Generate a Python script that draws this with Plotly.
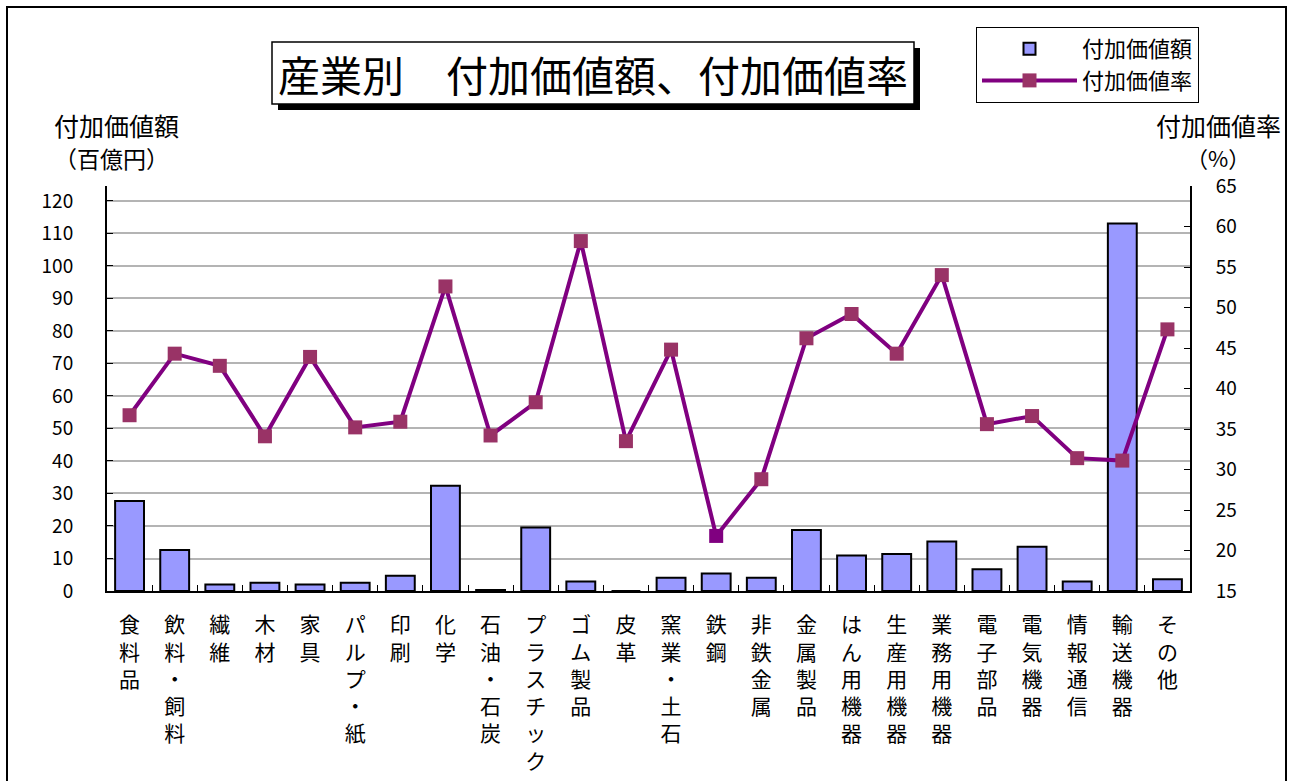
import plotly.graph_objects as go

categories = ["食料品", "飲料・飼料", "繊維", "木材", "家具", "パルプ・紙", "印刷", "化学",
              "石油・石炭", "プラスチック", "ゴム製品", "皮革", "窯業・土石", "鉄鋼", "非鉄金属",
              "金属製品", "はん用機器", "生産用機器", "業務用機器", "電子部品", "電気機器",
              "情報通信", "輸送機器", "その他"]
value_added = [27.7, 12.6, 2.0, 2.5, 2.0, 2.5, 4.7, 32.4, 0.3, 19.5, 2.9, 0.0, 4.1, 5.4, 4.1,
               18.8, 10.9, 11.4, 15.2, 6.7, 13.6, 2.9, 113.1, 3.6]
value_added_rate = [36.7, 44.3, 42.8, 34.1, 43.9, 35.2, 35.9, 52.6, 34.2, 38.3, 58.2, 33.5, 44.8,
                    21.8, 28.8, 46.2, 49.2, 44.3, 54.0, 35.6, 36.6, 31.4, 31.1, 47.3]
left_ticks = list(range(0, 121, 10))
right_ticks = list(range(15, 66, 5))

W, H = 1295, 781
L, R, T, B = 107, 1190, 186, 591
FONT = "Noto Sans CJK JP"


def px(x):
    return (x - L) / (R - L)


def py(y):
    return (B - y) / (B - T)


tick_text = ["<br>".join(list(c)) for c in categories]
marker_colors = ["#800080" if c == "鉄鋼" else "#993366" for c in categories]

fig = go.Figure()
fig.add_trace(go.Bar(
    x=categories, y=value_added, name="付加価値額",
    marker=dict(color="#9999ff", line=dict(color="black", width=2)),
    yaxis="y",
))
fig.add_trace(go.Scatter(
    x=categories, y=value_added_rate, name="付加価値率", mode="lines+markers",
    line=dict(color="#800080", width=4),
    marker=dict(symbol="square", size=14, color=marker_colors),
    yaxis="y2",
))

fig.update_layout(
    width=W, height=H,
    margin=dict(l=L, r=W - R, t=T, b=H - B, autoexpand=False),
    paper_bgcolor="white", plot_bgcolor="white",
    font=dict(family=FONT, color="black"),
    bargap=0.36,
    showlegend=True,
    legend=dict(
        x=px(976), y=py(27), xanchor="left", yanchor="top",
        bgcolor="white", bordercolor="black", borderwidth=1,
        font=dict(size=22, family=FONT), tracegroupgap=0, itemwidth=95,
    ),
    xaxis=dict(
        tickmode="array", tickvals=categories, ticktext=tick_text,
        range=[-0.5, len(categories) - 0.5], automargin=False,
        tickfont=dict(size=21, family=FONT),
        showline=True, linecolor="black", linewidth=2,
        ticks="inside", ticklen=6, tickcolor="black", tickson="boundaries",
        showgrid=False, ticklabelstandoff=14,
    ),
    yaxis=dict(
        range=[0, 124.6], tickvals=left_ticks, automargin=False,
        tickfont=dict(size=19, family=FONT),
        showline=True, linecolor="black", linewidth=2,
        ticks="inside", ticklen=6, tickcolor="black",
        showgrid=True, gridcolor="#b4b4b4", gridwidth=2,
        zeroline=False, ticklabelstandoff=28,
    ),
    yaxis2=dict(
        range=[15, 65], tickvals=right_ticks, overlaying="y", side="right", automargin=False,
        tickfont=dict(size=19, family=FONT),
        showline=True, linecolor="black", linewidth=2,
        ticks="inside", ticklen=6, tickcolor="black",
        showgrid=False, zeroline=False, ticklabelstandoff=20,
    ),
)

shapes = [
    # outer frame
    dict(type="rect", xref="paper", yref="paper", x0=px(7), x1=px(1286), y0=py(795), y1=py(7),
         line=dict(color="black", width=2), fillcolor="rgba(0,0,0,0)", layer="below"),
    # title shadow
    dict(type="rect", xref="paper", yref="paper", x0=px(278), x1=px(920), y0=py(110), y1=py(48),
         line=dict(width=0), fillcolor="black"),
    # title box
    dict(type="rect", xref="paper", yref="paper", x0=px(272), x1=px(914), y0=py(104), y1=py(42),
         line=dict(color="black", width=1.5), fillcolor="white"),
]
fig.update_layout(shapes=shapes)

annotations = [
    dict(text="産業別　付加価値額、付加価値率", x=px(593), y=py(73), xref="paper", yref="paper",
         showarrow=False, xanchor="center", yanchor="middle", font=dict(size=42, family=FONT)),
    dict(text="付加価値額", x=px(116), y=py(125), xref="paper", yref="paper",
         showarrow=False, xanchor="center", yanchor="middle", font=dict(size=25, family=FONT)),
    dict(text="（百億円）", x=px(111), y=py(158), xref="paper", yref="paper",
         showarrow=False, xanchor="center", yanchor="middle", font=dict(size=23, family=FONT)),
    dict(text="付加価値率", x=px(1218), y=py(125), xref="paper", yref="paper",
         showarrow=False, xanchor="center", yanchor="middle", font=dict(size=25, family=FONT)),
    dict(text="（%）", x=px(1218), y=py(157), xref="paper", yref="paper",
         showarrow=False, xanchor="center", yanchor="middle", font=dict(size=22, family=FONT)),
]
fig.update_layout(annotations=annotations)

fig.write_html("out.html", config={"displayModeBar": False},
               post_script="document.body.style.margin='0';document.body.style.padding='0';")
